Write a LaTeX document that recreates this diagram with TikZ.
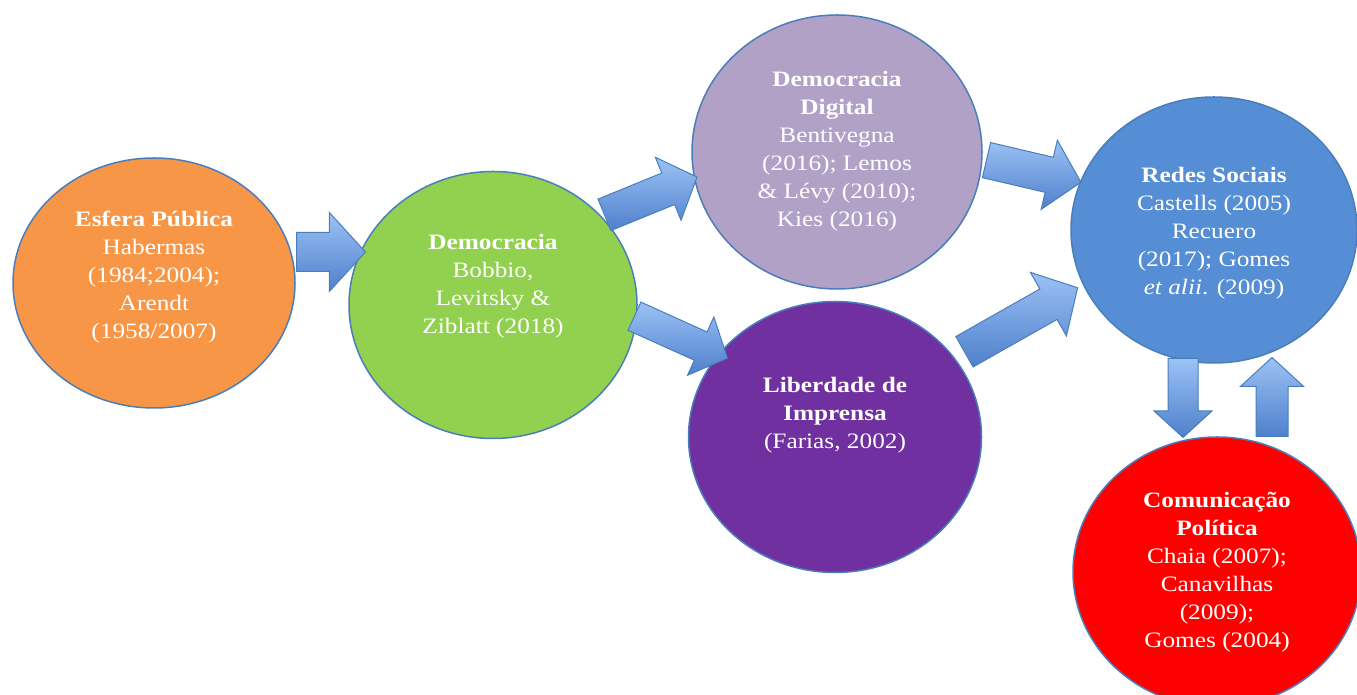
\documentclass[tikz,border=0pt]{standalone}
\usepackage{fontspec}
\setmainfont{Liberation Serif}[FakeStretch=1.15]
\usetikzlibrary{shapes.geometric,shapes.arrows}
\definecolor{edgeblue}{HTML}{4A7EBB}
\definecolor{arrowlight}{HTML}{9CC2F5}
\definecolor{arrowdark}{HTML}{4F80CC}
\definecolor{esferacol}{HTML}{F79646}
\definecolor{democcol}{HTML}{92D050}
\definecolor{digitalcol}{HTML}{B2A1C7}
\definecolor{imprensacol}{HTML}{7030A0}
\definecolor{redescol}{HTML}{558ED5}
\tikzset{
  bubble/.style={ellipse,draw=edgeblue,line width=1.5pt,inner sep=0pt},
  txt/.style={align=center,text=white,font=\fontsize{22}{28}\selectfont},
  blockarrow/.style={single arrow,draw=edgeblue,line width=1pt,top color=arrowlight,bottom color=arrowdark,
    single arrow tip angle=95,inner xsep=0pt,anchor=tail}
}
\begin{document}
\begin{tikzpicture}[x=1pt,y=1pt]
\clip (0,0) rectangle (1357,695);
% circles
\node[bubble,fill=esferacol,minimum width=282,minimum height=250] (esfera) at (154,412) {};
\node[bubble,fill=democcol,minimum width=288,minimum height=267] (democ) at (493,390) {};
\node[bubble,fill=digitalcol,minimum width=290,minimum height=274] (digital) at (837,543) {};
\node[bubble,fill=imprensacol,minimum width=293,minimum height=271] (imprensa) at (835,258) {};
\node[bubble,fill=redescol,minimum width=286,minimum height=266] (redes) at (1214,465) {};
\node[bubble,fill=red,minimum width=288,minimum height=270] (comunic) at (1217,123) {};
% texts
\node[txt] (esfera-t) at ([yshift=6]esfera.center) {\textbf{Esfera Pública}\\Habermas\\(1984;2004);\\Arendt\\(1958/2007)};
\node[txt] (democ-t) at ([yshift=19]democ.center) {\textbf{Democracia}\\Bobbio,\\Levitsky \&\\Ziblatt (2018)};
\node[txt] (digital-t) at ([yshift=1]digital.center) {\textbf{Democracia}\\\textbf{Digital}\\Bentivegna\\(2016); Lemos\\\& Lévy (2010);\\Kies (2016)};
\node[txt] (imprensa-t) at ([yshift=22]imprensa.center) {\textbf{Liberdade de}\\\textbf{Imprensa}\\(Farias, 2002)};
\node[txt] (redes-t) at ([yshift=-3]redes.center) {\textbf{Redes Sociais}\\Castells (2005)\\Recuero\\(2017); Gomes\\\textit{et alii}. (2009)};
\node[txt] (comunic-t) at (comunic.center) {\textbf{Comunicação}\\\textbf{Política}\\Chaia (2007);\\Canavilhas\\(2009);\\Gomes (2004)};
% arrows
\node[blockarrow,minimum height=69,inner ysep=19,single arrow head extend=20] (a1) at (296,443) {};
\node[blockarrow,rotate=22.2,minimum height=100,inner ysep=16.5,single arrow head extend=17] (a2) at (604,480) {};
\node[blockarrow,rotate=-24.3,minimum height=102,inner ysep=15,single arrow head extend=16.5] (a3) at (634,379) {};
\node[blockarrow,rotate=-13.2,minimum height=97,inner ysep=17.5,single arrow head extend=17.5] (a4) at (986,535) {};
\node[blockarrow,rotate=29.5,minimum height=130,inner ysep=17,single arrow head extend=19] (a5) at (964,343) {};
\node[blockarrow,rotate=-90,minimum height=79,inner ysep=14.5,single arrow head extend=14] (a6) at (1183,337) {};
\node[blockarrow,rotate=90,minimum height=79,inner ysep=15.5,single arrow head extend=15.5] (a7) at (1272,258) {};
\end{tikzpicture}
\end{document}
